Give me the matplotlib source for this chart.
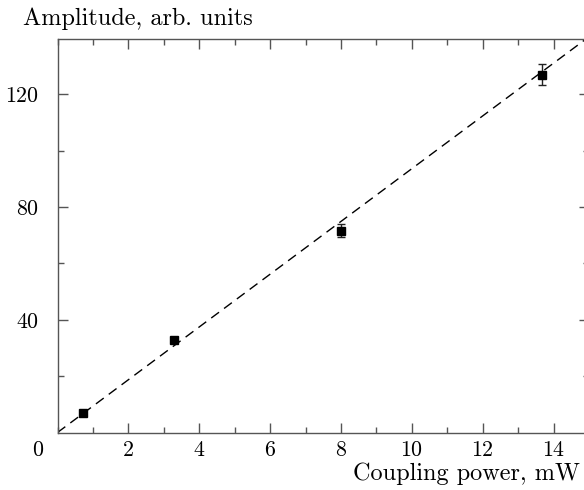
import matplotlib
matplotlib.use("Agg")
import matplotlib.pyplot as plt
import numpy as np
from matplotlib.ticker import MultipleLocator, FixedLocator

plt.rcParams['font.family'] = ['cmr10', 'DejaVu Sans']
plt.rcParams['mathtext.fontset'] = 'cm'
plt.rcParams['axes.formatter.use_mathtext'] = True

# data
power = [0.72, 3.30, 8.0, 13.68]
amplitude = [7.0, 32.8, 71.6, 126.9]
amp_err = [0.5, 0.6, 2.2, 3.7]
fit_slope = 9.36
x_ticks = [2, 4, 6, 8, 10, 12, 14]
y_ticks = [40, 80, 120]

W, H = 584, 490
fig = plt.figure(figsize=(W / 100, H / 100), dpi=100)
ax = fig.add_axes([57.5 / W, 57.5 / H, 531.5 / W, 393.2 / H])

axis_col = '#555555'
fs = 15.8
lfs = 17.5

xf = np.array([0, 15])
ax.plot(xf, fit_slope * xf, color='black', lw=1.0, dashes=(7, 4.5))
ax.errorbar(power, amplitude, yerr=amp_err, fmt='s', color='black',
            ms=6, capsize=3.0, elinewidth=1.0, capthick=1.0, ecolor='#222222')

ax.set_xlim(0, 15)
ax.set_ylim(0, 139.5)
ax.xaxis.set_major_locator(FixedLocator(x_ticks))
ax.xaxis.set_minor_locator(MultipleLocator(1))
ax.yaxis.set_major_locator(FixedLocator(y_ticks))
ax.yaxis.set_minor_locator(FixedLocator([20, 60, 100]))
ax.tick_params(which='both', direction='in', top=True, right=True,
               color=axis_col, width=1.0)
ax.tick_params(which='major', length=7)
ax.tick_params(which='minor', length=4)
ax.tick_params(axis='x', which='major', pad=6, labelsize=fs)
ax.tick_params(axis='y', which='major', pad=13, labelsize=fs)
for s in ax.spines.values():
    s.set_color(axis_col)
    s.set_linewidth(1.0)

fig.text(38 / W, 1 - 450 / H, '0', fontsize=fs, ha='center', va='center')
fig.text(580 / W, 1 - 480 / H, 'Coupling power, mW', fontsize=lfs,
         ha='right', va='baseline')
fig.text(23 / W, 1 - 25 / H, 'Amplitude, arb. units', fontsize=lfs,
         ha='left', va='baseline')

fig.savefig('out.png', dpi=100)
